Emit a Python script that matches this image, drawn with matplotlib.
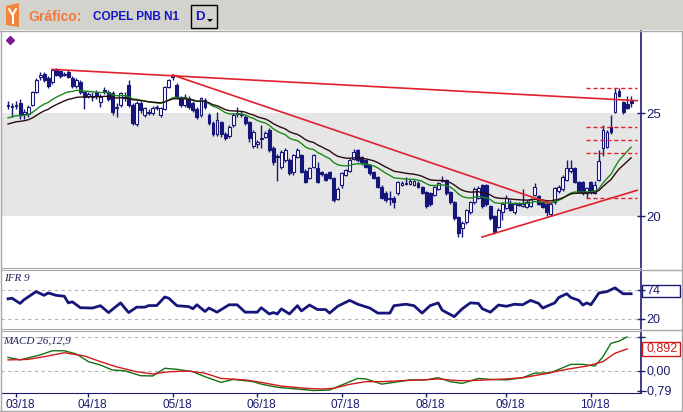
import numpy as np
import matplotlib
matplotlib.use('Agg')
import matplotlib.pyplot as plt
from matplotlib.patches import Rectangle, Polygon
from matplotlib.lines import Line2D
from matplotlib.transforms import ScaledTranslation

plt.rcParams['font.family'] = ['Liberation Sans', 'DejaVu Sans']

# pregoes diarios COPEL PNB N1 (mar-out/2018)
opens = [25.35, 25.35, 25.35, 25.5, 24.95, 24.95, 25.4, 26.0, 26.75, 26.9,
         26.7, 26.5, 27.1, 27.05, 26.85, 27.0, 26.7, 26.3, 26.5, 26.0,
         25.85, 25.85, 26.0, 25.55, 26.05, 26.0, 25.95, 25.25, 25.4, 25.75,
         26.35, 25.4, 24.45, 25.5, 24.9, 25.0, 25.0, 25.25, 24.9, 25.2,
         26.25, 26.75, 26.35, 25.8, 25.4, 25.75, 25.5, 25.2, 24.9, 25.65,
         24.9, 24.5, 24.0, 24.55, 24.0, 23.9, 24.4, 24.95, 24.95, 24.8,
         24.55, 23.4, 23.5, 23.75, 23.85, 24.2, 23.3, 22.85, 22.4, 22.7,
         22.7, 22.15, 22.85, 22.95, 22.2, 21.85, 22.4, 22.35, 22.15, 22.05,
         22.15, 21.85, 20.85, 21.5, 22.0, 22.2, 22.75, 23.2, 22.85, 22.7,
         22.5, 22.15, 21.9, 21.4, 21.1, 20.85, 20.9, 21.1, 21.5, 21.55,
         21.55, 21.5, 21.6, 21.4, 21.15, 21.1, 21.0, 21.3, 21.7, 21.75,
         21.15, 20.7, 19.95, 19.4, 19.7, 20.2, 20.7, 20.9, 21.5, 21.5,
         20.5, 20.0, 19.45, 20.2, 20.4, 20.65, 20.2, 20.55, 20.5, 20.45,
         20.5, 21.0, 20.95, 20.7, 20.6, 20.1, 20.7, 21.2, 21.3, 21.75,
         22.2, 22.35, 21.65, 21.65, 21.1, 21.65, 21.1, 21.75, 23.3, 23.35,
         24.3, 25.05, 26.05, 25.55, 25.45, 25.6]
highs = [25.6, 25.5, 25.6, 25.7, 25.2, 25.4, 26.05, 26.7, 27.0, 27.0,
         26.8, 27.15, 27.2, 27.1, 27.0, 27.1, 26.8, 26.7, 26.6, 26.05,
         26.0, 26.0, 26.1, 25.9, 26.25, 26.1, 26.05, 25.5, 26.0, 26.0,
         26.6, 25.5, 25.6, 25.6, 25.3, 25.2, 25.35, 25.4, 25.3, 26.3,
         26.65, 26.9, 26.45, 25.85, 25.9, 25.85, 25.6, 25.3, 25.8, 25.75,
         25.0, 24.6, 25.05, 24.6, 24.1, 24.4, 25.0, 25.3, 25.1, 24.9,
         24.6, 24.2, 23.7, 24.4, 24.15, 24.25, 23.4, 23.0, 23.2, 23.3,
         22.8, 23.0, 23.3, 23.0, 22.3, 22.4, 23.0, 22.6, 22.2, 22.1,
         22.2, 21.9, 21.4, 22.15, 22.3, 22.8, 23.25, 23.25, 22.9, 22.75,
         22.55, 22.2, 21.95, 21.5, 21.2, 21.2, 20.95, 21.7, 21.7, 21.9,
         21.8, 21.75, 21.7, 21.45, 21.2, 21.15, 21.45, 21.65, 21.95, 21.8,
         21.2, 20.75, 20.0, 19.75, 20.35, 20.75, 21.4, 21.45, 21.55, 21.55,
         20.55, 20.05, 20.4, 20.7, 21.0, 20.8, 20.7, 20.7, 21.3, 20.8,
         20.9, 21.6, 21.0, 20.8, 20.65, 20.7, 21.4, 21.5, 22.0, 22.7,
         22.7, 22.4, 21.7, 21.7, 21.4, 21.7, 21.7, 23.2, 24.4, 24.2,
         24.9, 26.2, 26.2, 25.6, 25.85, 25.85]
lows = [25.2, 24.8, 25.2, 24.7, 24.7, 24.8, 25.35, 25.95, 26.6, 26.5,
        26.2, 26.4, 26.8, 26.7, 26.8, 26.7, 26.2, 26.2, 25.9, 25.2,
        25.75, 25.6, 25.7, 25.3, 25.9, 25.6, 24.9, 24.8, 25.3, 25.6,
        25.3, 24.4, 24.35, 25.0, 24.8, 24.9, 24.9, 25.15, 24.8, 25.15,
        26.2, 26.6, 25.75, 25.3, 25.3, 25.2, 25.05, 24.7, 24.8, 25.2,
        24.4, 23.9, 23.9, 23.85, 23.7, 23.8, 24.3, 24.8, 24.8, 24.4,
        23.6, 23.3, 23.3, 23.3, 23.8, 23.1, 22.5, 21.7, 22.3, 22.6,
        22.0, 22.0, 22.8, 22.1, 21.6, 21.8, 22.35, 21.6, 21.95, 21.7,
        21.8, 20.7, 20.8, 21.35, 21.95, 22.15, 22.7, 22.6, 22.5, 22.35,
        22.0, 21.8, 21.35, 20.85, 20.7, 20.55, 20.4, 21.0, 21.45, 21.5,
        21.5, 21.45, 21.35, 21.05, 20.4, 20.5, 20.95, 21.25, 21.65, 21.0,
        20.6, 19.8, 19.0, 19.0, 19.6, 20.1, 20.6, 20.85, 20.4, 20.5,
        19.8, 19.15, 19.4, 19.8, 20.35, 20.25, 20.1, 20.5, 20.45, 20.4,
        20.45, 20.95, 20.55, 20.4, 20.0, 20.0, 20.6, 21.1, 21.2, 21.7,
        22.1, 21.6, 21.1, 21.0, 20.9, 21.05, 21.05, 21.7, 22.9, 23.3,
        24.0, 25.0, 25.8, 24.95, 25.2, 25.3]
closes = [25.4, 25.3, 25.4, 24.9, 25.05, 25.3, 26.0, 26.6, 26.85, 26.6,
          26.3, 27.1, 26.85, 26.8, 26.9, 26.75, 26.3, 26.6, 26.0, 25.8,
          25.9, 25.8, 25.85, 25.8, 26.1, 25.7, 25.05, 25.3, 25.95, 25.8,
          25.4, 24.5, 25.5, 25.15, 25.25, 25.05, 25.25, 25.3, 25.25, 26.25,
          26.6, 26.8, 25.8, 25.4, 25.8, 25.3, 25.15, 24.8, 25.75, 25.3,
          24.5, 24.0, 24.65, 24.0, 23.8, 24.3, 24.9, 25.0, 24.9, 24.5,
          23.8, 24.1, 23.6, 23.8, 24.05, 23.2, 22.6, 22.9, 23.1, 23.2,
          22.1, 22.95, 23.2, 22.15, 21.65, 22.35, 22.95, 21.65, 22.05, 21.75,
          21.85, 20.8, 21.3, 22.1, 22.25, 22.7, 23.1, 22.7, 22.6, 22.4,
          22.1, 21.85, 21.4, 20.9, 20.8, 20.9, 20.7, 21.65, 21.6, 21.6,
          21.7, 21.7, 21.4, 21.1, 20.5, 20.6, 21.4, 21.6, 21.75, 21.1,
          20.7, 19.9, 19.2, 19.65, 20.3, 20.7, 21.3, 21.35, 20.5, 20.6,
          19.9, 19.25, 20.3, 20.6, 20.9, 20.3, 20.6, 20.6, 20.6, 20.7,
          20.85, 21.4, 20.6, 20.45, 20.2, 20.6, 21.35, 21.4, 21.9, 22.35,
          22.35, 21.65, 21.15, 21.1, 21.35, 21.15, 21.5, 22.65, 24.2, 24.1,
          24.1, 25.95, 25.85, 25.05, 25.25, 25.5]

month_labels = ['03/18', '04/18', '05/18', '06/18', '07/18', '08/18', '09/18', '10/18']
month_pos = [2, 20, 41, 62, 83, 104, 124, 145]

# medias exponenciais (valor inicial)
fast_span, fast_seed = 21, 24.7
slow_span, slow_seed = 30, 24.4

# IFR 9
ifr_days = [0, 1, 3, 4, 7, 9, 10, 12, 14, 15, 16, 18, 21, 23, 25, 28, 30, 32, 34, 35,
            37, 39, 40, 42, 45, 46, 47, 49, 50, 52, 55, 57, 59, 62, 63, 65, 66, 67, 68, 70,
            72, 73, 75, 77, 79, 80, 82, 85, 87, 90, 92, 95, 96, 99, 101, 103, 105, 107, 108, 111,
            113, 115, 117, 118, 120, 122, 124, 126, 128, 130, 132, 133, 136, 137, 139, 140, 142, 143, 144, 145,
            147, 149, 151, 153, 155]
ifr_vals = [57.5, 58.6, 49, 56, 71, 64, 68.5, 64, 62.4, 50, 52, 41, 40.4, 44.8, 32, 50, 32, 42, 42, 45,
            45, 61, 58.6, 44.8, 43, 39, 46.5, 34, 40.4, 32.7, 46.5, 46.5, 32.7, 32.7, 41, 29.4, 32, 29.4, 39, 29.4,
            44.8, 35, 46, 37.6, 37.6, 31, 43.7, 54.7, 47.5, 40.4, 31, 31, 44.8, 47.5, 44.8, 31, 44.8, 50, 36.5, 24.4,
            39, 50, 49, 39, 32.7, 46, 43.7, 47.5, 46.5, 54.7, 49, 40.4, 50, 60, 67, 60, 54.7, 46, 50, 46.5,
            68.5, 71, 78, 67, 67]
ifr_levels = [74, 20]

# MACD 26,12,9
macd_days = [0, 3, 8, 11, 14, 17, 20, 23, 26, 29, 33, 36, 39, 42, 46, 49, 53, 56, 61, 63,
             67, 72, 76, 80, 84, 87, 89, 93, 96, 100, 104, 107, 110, 113, 117, 120, 124, 128, 131, 135,
             140, 143, 146, 148, 150, 152, 154]
macd_vals = [0.55, 0.45, 0.65, 0.82, 0.82, 0.69, 0.38, 0.24, 0.04, 0.01, -0.19, -0.2, 0.11, 0.07, -0.03,
             -0.23, -0.46, -0.34, -0.43, -0.53, -0.66, -0.73, -0.79, -0.77, -0.5, -0.3, -0.32, -0.53, -0.46,
             -0.36, -0.36, -0.27, -0.43, -0.5, -0.3, -0.34, -0.36, -0.27, -0.09, -0.07, 0.27, 0.27, 0.2,
             0.58, 1.12, 1.21, 1.38]
sig_days = [0, 5, 9, 14, 19, 23, 27, 32, 36, 40, 45, 49, 53, 59, 63, 68, 74, 78, 81, 85,
            89, 93, 98, 103, 107, 112, 115, 119, 124, 128, 133, 139, 144, 148, 151, 154]
sig_vals = [0.45, 0.47, 0.58, 0.74, 0.61, 0.38, 0.17, -0.03, -0.12, -0.03, 0.0, -0.09, -0.3, -0.36,
            -0.46, -0.61, -0.7, -0.73, -0.7, -0.54, -0.43, -0.43, -0.39, -0.36, -0.32, -0.39, -0.39,
            -0.36, -0.32, -0.27, -0.13, 0.07, 0.2, 0.38, 0.72, 0.892]

# linhas de tendencia (pregao, preco)
trend_long_x, trend_long_y = [11, 156.5], [27.12, 25.6]
trend_down_x, trend_down_y = [41, 134.8], [26.84, 20.63]
trend_up_x, trend_up_y = [117.9, 156.5], [18.98, 21.25]
levels = [26.2, 24.3, 23.69, 23.07, 20.86]
levels_x = [143.8, 156.5]


def ema(values, span, seed):
    a = 2.0 / (span + 1)
    out = []
    v = seed
    for c in values:
        v = v + a * (c - v)
        out.append(v)
    return out


W, H = 683, 412
dpi = 100
fig = plt.figure(figsize=(W / dpi, H / dpi), dpi=dpi)
fig.patch.set_facecolor('white')


def fx(px):
    return px / W


def fy(py):
    return 1 - py / H


navy = '#16167a'
axis_navy = '#1c1c6e'
red = '#e2202c'
grid_gray = '#b4b4b4'
sep_gray = '#a8a8a8'

# cabecalho
fig.add_artist(Rectangle((0, fy(30)), 1, 30 / H, transform=fig.transFigure,
                         facecolor='#d4d2cc', edgecolor='none'))
fig.add_artist(Polygon([(fx(6), fy(6)), (fx(19), fy(3)), (fx(19), fy(27)), (fx(6), fy(25))],
                       closed=True, transform=fig.transFigure, facecolor='#f0853e', edgecolor='none'))
fig.add_artist(Line2D([fx(9), fx(12.5), fx(16)], [fy(9), fy(15), fy(9)], transform=fig.transFigure,
                      color='white', lw=1.4))
fig.add_artist(Line2D([fx(12.5), fx(12.5)], [fy(15), fy(23)], transform=fig.transFigure,
                      color='white', lw=1.4))
fig.text(fx(28), fy(17), 'Gráfico:', color='#f07a3c', fontsize=10, fontweight='bold', va='center')
fig.text(fx(93), fy(17), 'COPEL PNB N1', color='#1414c8', fontsize=8.5, fontweight='bold', va='center')
fig.add_artist(Rectangle((fx(191), fy(28)), 26 / W, 23 / H, transform=fig.transFigure,
                         facecolor='none', edgecolor='black', lw=1))
fig.text(fx(195), fy(17), 'D', color='#1414c8', fontsize=9.5, fontweight='bold', va='center')
fig.add_artist(Polygon([(fx(207), fy(19)), (fx(213), fy(19)), (fx(210), fy(22))], closed=True,
                       transform=fig.transFigure, facecolor='black', edgecolor='none'))
fig.add_artist(Line2D([0, 1], [fy(30.5), fy(30.5)], transform=fig.transFigure, color=sep_gray, lw=1))

n = len(closes)
idx = np.arange(n)
o = np.array(opens)
c = np.array(closes)
hi = np.array(highs)
lo = np.array(lows)

step = 4.02
xl = -7 / step
xr = xl + 640 / step

# painel de precos
ax = fig.add_axes([fx(1), fy(268), 640 / W, 237 / H])
ax.set_xlim(xl, xr)
ax.set_ylim(17.48, 28.98)
ax.axhspan(20, 25, color='#e6e6e6', zorder=0, lw=0)

up = c >= o
body_b = np.minimum(o, c)
body_h = np.maximum(np.abs(c - o), 0.04)
ax.vlines(idx, lo, hi, color=navy, lw=1, zorder=2)
ax.bar(idx[up], body_h[up], bottom=body_b[up], width=0.72, facecolor='white',
       edgecolor=navy, lw=0.8, zorder=3)
ax.bar(idx[~up], body_h[~up], bottom=body_b[~up], width=0.72, facecolor=navy,
       edgecolor=navy, lw=0.8, zorder=3)

ax.plot(idx, ema(closes, fast_span, fast_seed), color='#1a8a1a', lw=1, zorder=4)
ax.plot(idx, ema(closes, slow_span, slow_seed), color='#2a0c0c', lw=1, zorder=4)

ax.plot(trend_long_x, trend_long_y, color=red, lw=1.2, zorder=5)
ax.plot(trend_down_x, trend_down_y, color=red, lw=1.2, zorder=5)
ax.plot(trend_up_x, trend_up_y, color=red, lw=1.2, zorder=5)
ax.hlines(levels, levels_x[0], levels_x[1], colors=red, lw=1, linestyles=(0, (3, 2)), zorder=5)

ax.yaxis.tick_right()
ax.set_yticks([20, 25])
ax.set_yticklabels(['20', '25'])
ax.tick_params(axis='y', direction='inout', length=6, width=1, colors=axis_navy,
               labelsize=9.5, pad=1)
ax.tick_params(axis='x', bottom=False, labelbottom=False)
for s in ['top', 'left']:
    ax.spines[s].set_visible(False)
ax.spines['bottom'].set_color(sep_gray)
ax.spines['right'].set_color(axis_navy)
ax.spines['right'].set_linewidth(1.2)

fig.add_artist(Line2D([fx(10)], [fy(40)], marker='D', ms=4.5, color='#7a1c8c',
                      transform=fig.transFigure))

# painel IFR
ax2 = fig.add_axes([fx(1), fy(329), 640 / W, 59 / H])
ax2.set_xlim(xl, xr)
ax2.set_ylim(1.4, 111.2)
ax2.hlines(ifr_levels, xl, xr, colors=grid_gray, lw=0.8, linestyles=(0, (3, 3)))
ax2.plot(ifr_days, ifr_vals, color=navy, lw=2)
ax2.yaxis.tick_right()
ax2.set_yticks(ifr_levels)
ax2.set_yticklabels([])
ax2.tick_params(axis='y', direction='inout', length=6, width=1, colors=axis_navy)
ax2.tick_params(axis='x', bottom=False, labelbottom=False)
ytr = ax2.get_yaxis_transform()
for v in ifr_levels:
    ax2.text(1.008, v - 2, str(v), transform=ytr, color=axis_navy, fontsize=9, va='center')
ax2.add_patch(Rectangle((1.002, ifr_levels[0] - 13), 38 / 640, 22, transform=ytr,
                        facecolor='none', edgecolor=axis_navy, lw=1, clip_on=False))
ax2.text(0.004, 0.86, 'IFR 9', transform=ax2.transAxes, fontsize=8, style='italic',
         family='Liberation Serif', color='#20205a', va='center')
ax2.spines['left'].set_visible(False)
ax2.spines['top'].set_color(sep_gray)
ax2.spines['bottom'].set_color(sep_gray)
ax2.spines['right'].set_color(axis_navy)
ax2.spines['right'].set_linewidth(1.2)

# painel MACD
ax3 = fig.add_axes([fx(1), fy(393), 640 / W, 62 / H])
ax3.set_xlim(xl, xr)
ax3.set_ylim(-0.89, 1.62)
mmax, mmin = max(macd_vals), min(macd_vals)
ax3.hlines([mmax, 0.0], xl, xr, colors=grid_gray, lw=0.8, linestyles=(0, (3, 3)))
ax3.plot(macd_days, macd_vals, color='#157015', lw=1)
ax3.plot(sig_days, sig_vals, color='#d01a1a', lw=1)
ax3.yaxis.tick_right()
ax3.set_yticks([mmax, 0.0, mmin])
ax3.set_yticklabels([])
ax3.tick_params(axis='y', direction='inout', length=6, width=1, colors=axis_navy)
ytr3 = ax3.get_yaxis_transform()
ax3.text(1.008, 0.0, '0,00', transform=ytr3, color=axis_navy, fontsize=9, va='center')
ax3.text(1.004, mmin - 0.02, f'{mmin:.2f}'.replace('.', ','), transform=ytr3, color=axis_navy,
         fontsize=9, va='center')
last_sig = sig_vals[-1]
ax3.text(1.008, last_sig, f'{last_sig:.3f}'.replace('.', ','), transform=ytr3, color='#d01a1a',
         fontsize=9, va='center')
ax3.add_patch(Rectangle((1.002, last_sig - 0.29), 38 / 640, 0.58, transform=ytr3,
                        facecolor='none', edgecolor='#d01a1a', lw=1, clip_on=False))
ax3.text(0.004, 0.84, 'MACD 26,12,9', transform=ax3.transAxes, fontsize=8, style='italic',
         family='Liberation Serif', color='#20205a', va='center')
ax3.set_xticks(month_pos)
ax3.set_xticklabels(month_labels)
ax3.tick_params(axis='x', direction='out', length=3, width=1, colors=axis_navy, labelsize=8.5, pad=1)
for lab in ax3.get_xticklabels():
    lab.set_transform(lab.get_transform() + ScaledTranslation(4 / dpi, 0, fig.dpi_scale_trans))
ax3.spines['left'].set_visible(False)
ax3.spines['top'].set_color(sep_gray)
ax3.spines['bottom'].set_color(axis_navy)
ax3.spines['right'].set_color(axis_navy)
ax3.spines['right'].set_linewidth(1.2)

# moldura
fig.add_artist(Line2D([fx(681.5), fx(681.5)], [fy(31), fy(411)], transform=fig.transFigure,
                      color=sep_gray, lw=1))
fig.add_artist(Line2D([fx(0.5), fx(0.5)], [fy(31), fy(411)], transform=fig.transFigure,
                      color=sep_gray, lw=1))
fig.add_artist(Line2D([0, fx(682)], [fy(410.5), fy(410.5)], transform=fig.transFigure,
                      color=sep_gray, lw=1))
fig.add_artist(Line2D([fx(641), fx(682)], [fy(269.5), fy(269.5)], transform=fig.transFigure,
                      color=sep_gray, lw=1))
fig.add_artist(Line2D([fx(641), fx(682)], [fy(330), fy(330)], transform=fig.transFigure,
                      color=sep_gray, lw=1))

plt.savefig('out.png', dpi=dpi)
